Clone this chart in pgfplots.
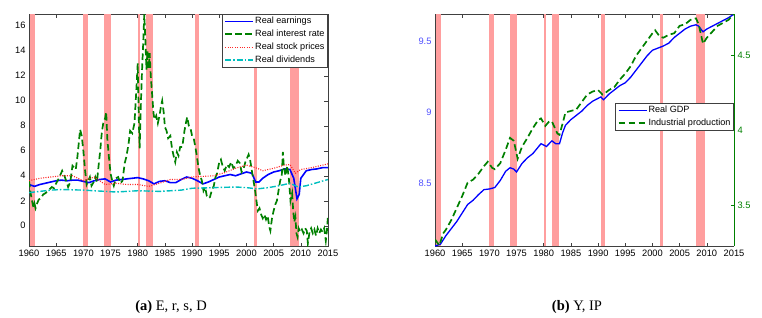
\documentclass[border=0pt]{standalone}
\usepackage{fontspec}
\setmainfont{Liberation Sans}
\newfontfamily\capfont{Liberation Serif}
\usepackage{pgfplots}
\usepackage{pgfplotstable}
\pgfplotsset{compat=1.18}
\definecolor{recess}{HTML}{FF9E9E}
\definecolor{mgreen}{rgb}{0,0.5,0}
\definecolor{mcyan}{rgb}{0,0.75,0.75}
\definecolor{axgray}{HTML}{404040}
\definecolor{lblue}{HTML}{5050FF}

\pgfplotstableread{
x y
1960.0 3.6
1960.3 2.6
1960.6 1.9
1960.8 1.5
1961.0 1.8
1961.2 1.4
1961.5 1.8
1961.8 2.1
1962.2 2.2
1962.6 2.5
1963.0 2.6
1963.5 2.8
1964.2 3.1
1964.6 3.0
1965.0 3.4
1965.5 3.8
1966.1 4.4
1966.6 3.9
1967.2 3.1
1967.6 3.5
1968.0 4.8
1968.6 4.5
1968.9 5.5
1969.2 6.8
1969.4 7.7
1969.7 7.2
1970.0 6.0
1970.3 4.5
1970.6 3.3
1970.9 3.6
1971.2 3.9
1971.5 3.2
1971.9 3.5
1972.2 3.9
1972.5 3.5
1972.8 4.8
1973.1 6.0
1973.4 7.5
1973.7 8.3
1974.0 8.6
1974.2 9.1
1974.4 7.0
1974.7 5.5
1975.0 4.2
1975.3 3.6
1975.6 3.2
1976.0 3.8
1976.4 3.9
1976.8 3.4
1977.2 3.6
1977.6 5.0
1977.9 5.5
1978.3 6.5
1978.6 7.6
1979.0 7.4
1979.4 8.2
1979.7 10.5
1980.0 13.0
1980.2 8.5
1980.35 6.2
1980.6 10.0
1980.8 12.5
1981.0 14.5
1981.2 16.9
1981.4 15.0
1981.6 12.5
1981.8 14.0
1982.0 12.6
1982.2 13.8
1982.4 12.0
1982.6 10.8
1982.9 9.0
1983.1 8.5
1983.4 8.8
1983.7 8.2
1984.0 8.8
1984.3 9.6
1984.5 10.0
1984.8 9.0
1985.0 7.9
1985.3 7.6
1985.6 7.0
1986.0 7.2
1986.3 6.2
1986.6 5.6
1986.9 5.1
1987.2 5.9
1987.5 5.6
1987.8 6.3
1988.2 6.3
1988.6 7.6
1988.9 8.3
1989.1 8.7
1989.4 8.0
1989.7 7.8
1990.0 7.2
1990.3 7.0
1990.6 6.3
1990.9 5.5
1991.2 4.6
1991.5 4.0
1991.8 3.6
1992.1 2.8
1992.4 3.1
1992.7 2.4
1993.0 2.2
1993.3 2.3
1993.6 2.8
1994.0 3.2
1994.3 3.9
1994.6 4.2
1995.0 5.1
1995.3 5.3
1995.6 4.8
1996.0 4.4
1996.4 4.9
1996.8 4.7
1997.2 5.1
1997.6 4.6
1998.0 4.8
1998.4 5.2
1998.8 5.0
1999.1 4.3
1999.5 4.6
1999.8 5.1
2000.1 5.4
2000.4 5.7
2000.7 5.2
2001.0 4.4
2001.3 3.6
2001.6 2.8
2001.9 1.8
2002.1 1.2
2002.4 1.4
2002.7 0.9
2003.0 0.6
2003.3 0.9
2003.6 0.5
2003.9 0.8
2004.2 -0.1
2004.4 -0.4
2004.7 0.6
2005.0 1.2
2005.3 1.7
2005.6 2.0
2005.9 2.8
2006.2 3.6
2006.5 4.0
2006.7 5.9
2006.9 4.6
2007.2 4.0
2007.5 4.8
2007.8 3.8
2008.1 2.0
2008.4 2.6
2008.6 1.2
2008.8 0.3
2009.0 0.7
2009.2 -0.6
2009.4 -0.9
2009.6 -0.2
2009.9 -0.5
2010.2 -0.3
2010.5 -0.6
2010.8 -0.2
2011.1 -0.4
2011.3 -1.4
2011.6 -0.5
2011.9 -0.2
2012.2 -0.6
2012.5 -0.3
2012.8 -0.8
2013.1 -0.2
2013.4 -0.6
2013.7 -0.3
2014.0 -0.5
2014.3 -0.2
2014.6 -1.2
2014.8 -0.4
2015.0 0.8
}\intr

\pgfplotstableread{
x y
1960 3.3
1961 3.15
1962 3.3
1963 3.4
1964 3.5
1965 3.6
1966 3.65
1967 3.6
1968 3.65
1969 3.65
1970 3.55
1971 3.45
1972 3.6
1973 3.7
1974 3.75
1975 3.5
1976 3.65
1977 3.7
1978 3.75
1979 3.8
1980 3.85
1981 3.75
1982 3.6
1983 3.35
1984 3.55
1985 3.6
1986 3.45
1987 3.45
1988 3.7
1989 3.9
1990 3.8
1991 3.6
1992 3.35
1993 3.5
1994 3.7
1995 3.9
1996 4.0
1997 4.1
1998 4.0
1999 4.15
2000 4.3
2001 4.2
2001.7 3.5
2002.3 3.5
2003 3.8
2004 4.1
2005 4.3
2006 4.4
2007 4.55
2008 4.5
2008.7 3.8
2009.3 2.15
2009.7 2.5
2010 3.8
2011 4.4
2012 4.5
2013 4.55
2014 4.65
2015 4.65
}\earn

\pgfplotstableread{
x y
1960 3.6
1962 3.8
1964 3.9
1966 4.0
1968 4.0
1970 3.6
1972 3.9
1974 3.3
1976 3.4
1978 3.3
1980 3.3
1982 3.15
1984 3.4
1986 3.7
1988 3.7
1990 3.9
1992 3.95
1994 4.0
1996 4.25
1998 4.6
2000 4.85
2002 4.6
2003 4.4
2005 4.6
2007 4.85
2008 4.9
2009 4.2
2010 4.5
2012 4.65
2014 4.85
2015 4.95
}\stock

\pgfplotstableread{
x y
1960 2.65
1962 2.75
1964 2.85
1966 2.9
1970 2.85
1974 2.75
1976 2.7
1980 2.8
1984 2.75
1988 2.85
1990 3.0
1994 3.05
1998 3.1
2000 3.05
2002 2.95
2004 3.05
2006 3.2
2008 3.4
2009.5 3.1
2011 3.2
2013 3.45
2015 3.7
}\divd

\pgfplotstableread{
x y
1960.0 8.057
1961.0 8.07
1962 8.13
1963 8.18
1964 8.23
1965 8.29
1966 8.35
1967 8.38
1968 8.42
1969 8.455
1970 8.46
1971 8.47
1972 8.52
1973 8.585
1973.8 8.61
1974.5 8.60
1975.0 8.58
1976 8.64
1977 8.68
1978 8.71
1979.5 8.78
1980.5 8.76
1981.5 8.80
1982.2 8.78
1982.9 8.78
1983.5 8.86
1984 8.91
1985 8.95
1986 8.98
1987 9.01
1988 9.05
1989 9.08
1990 9.10
1990.5 9.11
1991.0 9.09
1992 9.13
1993 9.16
1994 9.19
1995 9.21
1996 9.25
1997 9.30
1998 9.35
1999 9.40
2000 9.44
2001 9.455
2002 9.47
2003 9.49
2004 9.53
2005 9.56
2006 9.59
2007 9.61
2008 9.62
2008.5 9.61
2009.3 9.57
2010 9.59
2011 9.61
2012 9.63
2013 9.65
2014 9.67
2015 9.695
}\gdp

\pgfplotstableread{
x y
1960.0 3.27
1960.8 3.23
1961.5 3.31
1962 3.335
1963 3.40
1964 3.48
1965 3.56
1966 3.65
1967 3.67
1968 3.71
1969 3.76
1969.7 3.79
1970.5 3.75
1971 3.74
1972 3.78
1973 3.87
1973.8 3.95
1974.5 3.93
1975.2 3.81
1976 3.89
1977 3.95
1978 4.015
1979 4.07
1979.5 4.08
1980.3 4.03
1981 4.06
1981.5 4.06
1982.5 3.98
1982.9 3.97
1983.5 4.05
1984 4.12
1985 4.13
1986 4.14
1987 4.19
1988 4.24
1989 4.26
1990 4.27
1990.8 4.24
1991.3 4.25
1992 4.27
1993 4.29
1994 4.34
1995 4.38
1996 4.43
1997 4.50
1998 4.55
1999 4.60
2000 4.65
2000.5 4.67
2001.3 4.63
2002 4.62
2003 4.64
2004 4.65
2005 4.70
2006 4.71
2007 4.74
2008 4.75
2008.5 4.71
2009.3 4.58
2010 4.62
2011 4.66
2012 4.70
2013 4.72
2014 4.74
2015 4.78
}\ip

% #1,#2: x interval; #3,#4: y range of the axis
\newcommand{\recbar}[4]{\addplot[fill=recess,draw=none,forget plot] coordinates {(#1,#3) (#1,#4) (#2,#4) (#2,#3)} -- cycle;}
\newcommand{\recbars}[2]{%
\recbar{1960.1}{1961.1}{#1}{#2}
\recbar{1969.85}{1970.8}{#1}{#2}
\recbar{1973.85}{1975.1}{#1}{#2}
\recbar{1980.0}{1980.4}{#1}{#2}
\recbar{1981.45}{1982.9}{#1}{#2}
\recbar{1990.55}{1991.2}{#1}{#2}
\recbar{2001.3}{2001.95}{#1}{#2}
\recbar{2007.95}{2009.6}{#1}{#2}}

\pgfplotsset{
  base/.style={scale only axis, width=299pt, height=232pt, anchor=south west,
    xmin=1960, xmax=2015, xtick={1960,1965,...,2015},
    tick align=inside, major tick length=3.5pt,
    axis line style={axgray, line width=0.6pt},
    tick style={axgray, line width=0.5pt},
    ticklabel style={font=\fontsize{9.3}{11}\selectfont},
    /pgf/number format/assume math mode=true,
    /pgf/number format/1000 sep={},
    legend cell align=left,
    legend image code/.code={\draw[##1] (0pt,0pt) -- (28pt,0pt);},
    legend style={draw=axgray, line width=0.6pt, font=\fontsize{9.1}{10.5}\selectfont,
      inner xsep=2pt, inner ysep=1.8pt, row sep=2.4pt,
      nodes={inner sep=1.2pt}},
  }
}

\begin{document}
\begin{tikzpicture}[x=1pt,y=1pt]
\useasboundingbox (0,0) rectangle (762,317);

% ----- left panel
\begin{axis}[base, at={(29pt,71pt)},
  ymin=-1.62, ymax=16.94, ytick={0,2,...,16},
  legend style={at={(1,1)}, anchor=north east}]
\recbars{-1.62}{16.94}
\addplot[blue, line width=1.6pt] table {\earn};
\addlegendentry{Real earnings}
\addplot[mgreen, line width=1.7pt, dash pattern=on 6.5pt off 3.5pt] table {\intr};
\addlegendentry{Real interest rate}
\addplot[red!85, line width=1.1pt, dash pattern=on 1pt off 1.4pt] table {\stock};
\addlegendentry{Real stock prices}
\addplot[mcyan, line width=1.4pt, dash pattern=on 6pt off 2pt on 1.5pt off 2pt] table {\divd};
\addlegendentry{Real dividends}
\end{axis}

% ----- right panel
\begin{axis}[base, at={(435pt,71pt)},
  ymin=8.057, ymax=9.696, ytick={8.5,9,9.5},
  axis y line*=left,
  yticklabel style={lblue}]
\recbars{8.057}{9.696}
\addplot[blue, line width=1.3pt] table {\gdp};
\end{axis}
\begin{axis}[base, at={(435pt,71pt)},
  ymin=3.226, ymax=4.779, ytick={3.5,4,4.5},
  axis x line=none, axis y line*=right,
  y axis line style={mgreen}, ytick style={mgreen},
  yticklabel style={mgreen},
  legend style={at={(1,0.616)}, anchor=north east}]
\addlegendimage{blue, line width=1.6pt}
\addlegendentry{Real GDP}
\addplot[mgreen, line width=1.7pt, dash pattern=on 6.5pt off 3.5pt] table {\ip};
\addlegendentry{Industrial production}
\end{axis}

\node[anchor=base, font=\capfont\fontsize{14.5}{16}\selectfont] at (171,7) {\textbf{(a)} E, r, s, D};
\node[anchor=base, font=\capfont\fontsize{14.5}{16}\selectfont] at (577,7) {\textbf{(b)} Y, IP};
\end{tikzpicture}
\end{document}
